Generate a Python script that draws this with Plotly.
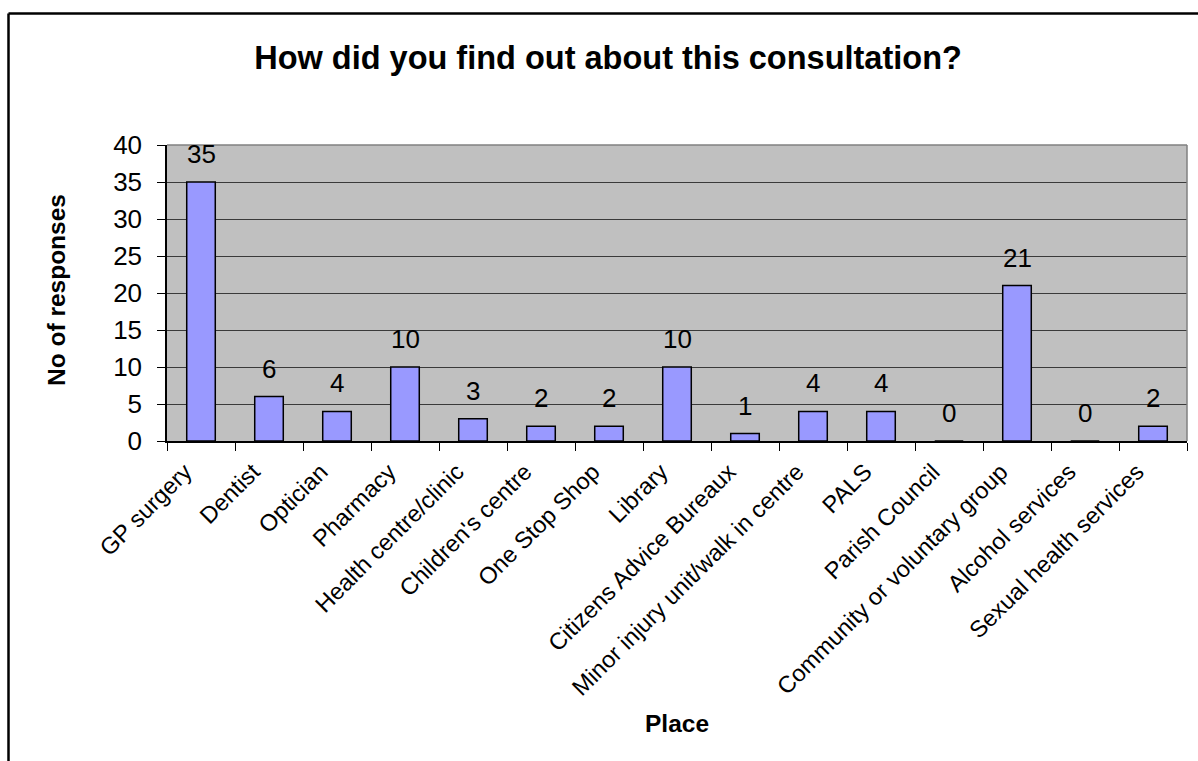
import plotly.graph_objects as go

categories = [
    "GP surgery", "Dentist", "Optician", "Pharmacy", "Health centre/clinic",
    "Children's centre", "One Stop Shop", "Library", "Citizens Advice Bureaux",
    "Minor injury unit/walk in centre", "PALS", "Parish Council",
    "Community or voluntary group", "Alcohol services", "Sexual health services",
]
responses = [35, 6, 4, 10, 3, 2, 2, 10, 1, 4, 4, 0, 21, 0, 2]
y_ticks = [0, 5, 10, 15, 20, 25, 30, 35, 40]

FONT = "Arial, 'Liberation Sans', sans-serif"
W, H = 1198, 761
L, R, T, B = 167, 11, 145, 320
pw, ph = W - L - R, H - T - B


def px_x(p):
    return (p - L) / pw


def px_y(p):
    return (H - B - p) / ph


fig = go.Figure()
fig.add_trace(go.Bar(
    x=categories, y=responses, width=0.42,
    marker=dict(color="#9999FF", line=dict(color="black", width=1.5)),
    hoverinfo="skip",
))

annotations = []
for c, v in zip(categories, responses):
    annotations.append(dict(
        x=c, y=v, xref="x", yref="y", text=str(v), showarrow=False,
        yanchor="bottom", yshift=11, font=dict(family=FONT, size=26, color="black"),
    ))
annotations.append(dict(
    x=px_x(56), y=px_y(290), xref="paper", yref="paper", text="<b>No of responses</b>",
    showarrow=False, textangle=-90, xanchor="center", yanchor="middle",
    font=dict(family=FONT, size=24.5, color="black"),
))
annotations.append(dict(
    x=0.5, y=px_y(723), xref="paper", yref="paper", text="<b>Place</b>",
    showarrow=False, xanchor="center", yanchor="middle",
    font=dict(family=FONT, size=24.5, color="black"),
))

shapes = [
    # gray frame top/right of plot area
    dict(type="line", xref="paper", yref="paper", x0=0, x1=1, y0=1, y1=1,
         line=dict(color="#808080", width=1.5)),
    dict(type="line", xref="paper", yref="paper", x0=1, x1=1, y0=0, y1=1,
         line=dict(color="#808080", width=1.5)),
    # outer chart border (left and top visible)
    dict(type="line", xref="paper", yref="paper", x0=px_x(8.5), x1=px_x(8.5),
         y0=px_y(13.5), y1=px_y(770), line=dict(color="black", width=2.5)),
    dict(type="line", xref="paper", yref="paper", x0=px_x(8.5), x1=px_x(1210),
         y0=px_y(13.5), y1=px_y(13.5), line=dict(color="black", width=2.5)),
]

fig.update_layout(
    width=W, height=H,
    margin=dict(l=L, r=R, t=T, b=B),
    paper_bgcolor="white", plot_bgcolor="#C0C0C0",
    showlegend=False,
    title=dict(
        text="<b>How did you find out about this consultation?</b>",
        xref="container", yref="container", x=608 / W, y=1 - 58 / H,
        xanchor="center", yanchor="middle",
        font=dict(family=FONT, size=32.5, color="black"),
    ),
    xaxis=dict(
        tickangle=-45, tickson="boundaries", ticks="outside", ticklen=8,
        tickcolor="black", showline=True, linecolor="black", linewidth=1.5,
        showgrid=False, tickfont=dict(family=FONT, size=23.5, color="black"),
        ticklabelshift=-16, ticklabelstandoff=6,
    ),
    yaxis=dict(
        range=[0, 40], tickvals=y_ticks, ticks="outside", ticklen=8,
        tickcolor="black", showline=True, linecolor="black", linewidth=1.5,
        showgrid=True, gridcolor="#3a3a3a", gridwidth=1, zeroline=False,
        tickfont=dict(family=FONT, size=26, color="black"), ticklabelstandoff=10,
    ),
    annotations=annotations,
    shapes=shapes,
)

fig.write_html(
    "out.html",
    config={"displayModeBar": False},
    post_script="document.body.style.margin='0';document.body.style.overflow='hidden';",
)
